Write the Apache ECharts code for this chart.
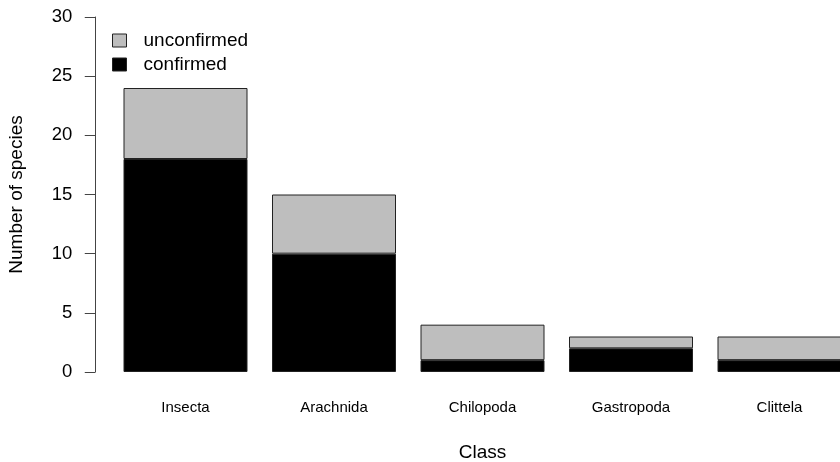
<!DOCTYPE html>
<html>
<head>
<meta charset="utf-8">
<script src="https://cdn.jsdelivr.net/npm/echarts@6/dist/echarts.min.js"></script>
<style>
  html, body { margin: 0; padding: 0; background: #ffffff; }
  #chart { width: 840px; height: 462px; }
</style>
</head>
<body>
<div id="chart"></div>
<script>
// Species counts per class, split into confirmed and unconfirmed records
const categories = ['Insecta', 'Arachnida', 'Chilopoda', 'Gastropoda', 'Clittela'];
const confirmed = [18, 10, 1, 2, 1];
const unconfirmed = [6, 5, 3, 1, 2];
const yTicks = { min: 0, max: 30, interval: 5 };

const FONT = '"Liberation Sans", Arial, Helvetica, sans-serif';
const chart = echarts.init(document.getElementById('chart'), null, { renderer: 'canvas' });

const barStyle = (color) => ({ color: color, borderColor: '#222', borderWidth: 1 });

chart.setOption({
  animation: false,
  backgroundColor: '#ffffff',
  textStyle: { fontFamily: FONT, color: '#000' },
  // The plot region runs past the right edge, so the last bar is cut off
  grid: { left: 111.25, top: 17, width: 742.5, height: 355, containLabel: false, outerBoundsMode: 'none' },
  legend: {
    orient: 'vertical',
    left: 112,
    top: 31,
    padding: 0,
    itemWidth: 14,
    itemHeight: 13,
    itemGap: 5,
    icon: 'rect',
    data: [
      { name: 'unconfirmed', itemStyle: { color: '#bebebe', borderColor: '#222', borderWidth: 1 } },
      { name: 'confirmed', itemStyle: { color: '#000000', borderColor: '#222', borderWidth: 1 } }
    ],
    textStyle: { fontFamily: FONT, fontSize: 19, color: '#000', lineHeight: 19, padding: [0, 0, 0, 12] }
  },
  xAxis: {
    type: 'category',
    data: categories,
    name: 'Class',
    nameLocation: 'middle',
    nameGap: 71.5,
    nameTextStyle: { fontFamily: FONT, fontSize: 19, color: '#000' },
    axisLine: { show: false },
    axisTick: { show: false },
    axisLabel: { margin: 28.5, fontSize: 15, color: '#000', fontFamily: FONT, interval: 0 },
    splitLine: { show: false }
  },
  yAxis: {
    type: 'value',
    min: yTicks.min,
    max: yTicks.max,
    interval: yTicks.interval,
    offset: 16,
    name: 'Number of species',
    nameLocation: 'middle',
    nameGap: 68.5,
    nameTextStyle: { fontFamily: FONT, fontSize: 19, color: '#000' },
    axisLine: { show: true, lineStyle: { color: '#444', width: 1 } },
    axisTick: { show: true, length: 10.5, lineStyle: { color: '#444', width: 1 } },
    axisLabel: { margin: 23, fontSize: 18.5, color: '#000', fontFamily: FONT },
    splitLine: { show: false }
  },
  series: [
    {
      name: 'confirmed',
      type: 'bar',
      stack: 'species',
      barWidth: 124,
      data: confirmed,
      itemStyle: barStyle('#000000')
    },
    {
      name: 'unconfirmed',
      type: 'bar',
      stack: 'species',
      barWidth: 124,
      data: unconfirmed,
      itemStyle: barStyle('#bebebe')
    }
  ]
});
</script>
</body>
</html>
